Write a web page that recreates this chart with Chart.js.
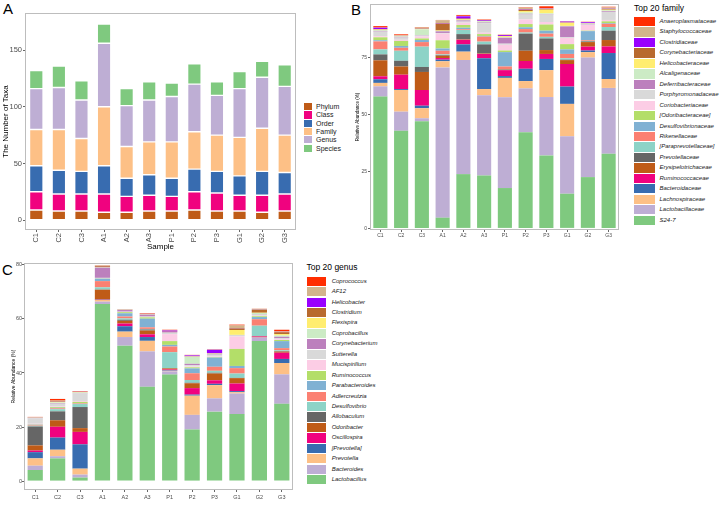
<!DOCTYPE html>
<html>
<head>
<meta charset="utf-8">
<script src="https://cdn.jsdelivr.net/npm/chart.js@4.4.0/dist/chart.umd.min.js"></script>
<style>
    body { margin: 0; background: #fff; width: 720px; height: 511px; position: relative; overflow: hidden; font-family: 'Liberation Sans', Arial, sans-serif; }
    canvas { position: absolute; }
    .panel { position: absolute; font-size: 15px; line-height: 15px; color: #000; }
    .legend { position: absolute; left: 0; top: 0; }
    .legend div { position: absolute; white-space: nowrap; }
    .legend .title { font-size: 8.5px; line-height: 9px; color: #000; }
    .legend .name { color: #1a1a1a; }
</style>
</head>
<body>
<div class="panel" style="left:3px;top:1px">A</div>
<div class="panel" style="left:351px;top:2px">B</div>
<div class="panel" style="left:2px;top:262px">C</div>

<canvas id="chartA" width="300" height="252" style="left:0;top:0"></canvas>
<canvas id="chartB" width="265" height="240" style="left:355px;top:0"></canvas>
<canvas id="chartC" width="296" height="250" style="left:0;top:258px"></canvas>

<div id="legendA" class="legend"></div>
<div id="legendB" class="legend"></div>
<div id="legendC" class="legend"></div>

<script>
const samples = ['C1', 'C2', 'C3', 'A1', 'A2', 'A3', 'P1', 'P2', 'P3', 'G1', 'G2', 'G3'];

// A - number of taxa per level
const taxaLevels = ['Phylum', 'Class', 'Order', 'Family', 'Genus', 'Species'];
const phylum  = [9, 8, 8, 7, 7, 8, 8, 9, 8, 8, 7, 8];
const klass   = [16, 15, 15, 16, 14, 14, 13, 16, 16, 14, 15, 15];
const order   = [23, 21, 20, 25, 16, 18, 16, 20, 19, 17, 21, 19];
const family  = [32, 36, 29, 52, 28, 29, 32, 33, 32, 34, 38, 33];
const genus   = [36, 37, 34, 56, 36, 37, 40, 42, 35, 43, 45, 43];
const species = [16, 19, 17, 17, 15, 16, 12, 18, 12, 15, 14, 19];
const ticksA = [0, 50, 100, 150];

// B - top 20 family, relative abundance (%)
const s24_7               = [57.8, 42.8, 47.0, 4.7, 23.8, 23.2, 17.7, 42.2, 32.0, 15.2, 22.5, 32.7];
const lactobacillaceae    = [4.5, 8.4, 1.3, 65.9, 50.0, 35.2, 39.8, 19.2, 25.6, 25.2, 52.4, 28.9];
const lachnospiraceae     = [1.5, 9.5, 4.4, 2.7, 3.7, 2.7, 8.5, 3.2, 11.8, 14.2, 2.4, 3.9];
const bacteroidaceae      = [1.6, 0.4, 1.1, 0.7, 3.2, 13.5, 0.8, 5.4, 4.9, 7.6, 0.7, 11.4];
const ruminococcaceae     = [1.3, 6.3, 6.9, 0.7, 2.0, 1.9, 2.6, 3.4, 2.2, 9.9, 1.7, 2.9];
const erysipelotrichaceae = [7.0, 3.6, 7.9, 1.0, 0.2, 0.2, 0.2, 4.5, 1.7, 1.7, 2.0, 2.8];
const prevotellaceae      = [2.6, 2.5, 2.2, 0.3, 2.3, 4.0, 0.2, 7.5, 5.1, 0.2, 0.3, 4.1];
const paraprevotellaceae  = [2.2, 4.4, 8.9, 0.3, 1.8, 1.2, 0.1, 0.5, 0.7, 0.6, 0.2, 1.6];
const rikenellaceae       = [3.5, 1.3, 2.0, 1.6, 0.3, 2.2, 1.1, 1.5, 1.4, 1.9, 0.3, 1.4];
const desulfovibrionaceae = [0.5, 0.8, 0.9, 1.0, 0.7, 0.3, 6.3, 0.8, 1.3, 2.0, 4.0, 0.3];
const odoribacteraceae    = [1.3, 2.2, 0.7, 3.6, 1.2, 0.8, 0.7, 1.4, 2.7, 2.3, 0.2, 0.8];
const coriobacteriaceae   = [0.5, 0.5, 0.8, 2.9, 1.0, 0.6, 2.5, 2.0, 1.1, 2.7, 2.5, 0.6];
const porphyromonadaceae  = [2.0, 1.0, 0.5, 0.3, 0.5, 4.2, 0.5, 2.2, 3.3, 0.3, 0.2, 3.5];
const deferribacteraceae  = [0.3, 0.3, 0.2, 0.7, 0.5, 0.3, 2.6, 0.3, 0.2, 4.8, 0.2, 0.3];
const alcaligenaceae      = [0.3, 0.3, 2.5, 0.2, 0.2, 0.5, 0.2, 0.6, 0.3, 0.2, 0.2, 0.4];
const helicobacteraceae   = [0.3, 0.2, 0.2, 0.2, 0.3, 0.1, 0.5, 0.6, 1.6, 1.4, 0.1, 0.3];
const corynebacteriaceae  = [0.2, 0.1, 0.2, 3.0, 0.3, 0.1, 0.1, 0.6, 0.3, 0.1, 0.1, 0.3];
const clostridiaceae      = [0.6, 0.1, 0.1, 0.2, 1.0, 0.3, 0.4, 0.2, 0.1, 0.4, 0.4, 0.1];
const staphylococcaceae   = [0.1, 0.1, 0.3, 1.3, 0.2, 0.1, 0.1, 0.7, 0.2, 0.1, 0.1, 0.6];
const anaeroplasmataceae  = [0.6, 0.3, 0.2, 0.1, 0.4, 0.2, 0.1, 0.2, 0.9, 0.1, 0.1, 0.3];
const ticksB = [0, 25, 50, 75];

// C - top 20 genus, relative abundance (%)
const lactobacillus   = [4.1, 8.4, 1.3, 65.5, 50.1, 34.9, 39.4, 19.1, 25.7, 24.8, 51.8, 28.6];
const bacteroides     = [1.6, 0.8, 1.1, 0.9, 3.2, 13.1, 1.2, 5.4, 4.9, 7.6, 1.2, 10.9];
const prevotella      = [2.7, 2.4, 2.2, 0.6, 2.0, 3.9, 0.2, 7.1, 4.9, 0.5, 0.1, 4.2];
const prevotellaBr    = [2.3, 4.5, 9.0, 0.1, 2.0, 1.4, 0.2, 0.4, 0.5, 0.4, 0.1, 1.5];
const oscillospira    = [0.6, 4.0, 4.6, 0.1, 1.0, 1.0, 0.3, 2.4, 1.3, 2.8, 0.3, 2.3];
const odoribacter     = [1.9, 2.4, 1.4, 3.6, 1.0, 1.4, 0.4, 1.8, 2.5, 2.0, 0.1, 0.4];
const allobaculum     = [7.0, 3.3, 7.8, 0.1, 0.4, 0.4, 0.1, 0.2, 0.3, 0.1, 0.1, 0.2];
const desulfovibrio   = [0.3, 0.8, 1.1, 0.8, 0.5, 0.2, 5.9, 1.0, 0.7, 1.6, 3.8, 0.3];
const adlercreutzia   = [0.3, 0.3, 0.2, 2.3, 0.7, 0.6, 2.1, 2.5, 1.5, 2.0, 2.4, 0.8];
const parabacteroides = [0.1, 0.2, 0.1, 0.9, 1.2, 3.2, 0.6, 1.8, 3.4, 0.8, 0.8, 2.6];
const ruminococcus    = [0.1, 0.3, 0.5, 0.1, 0.4, 0.5, 1.4, 0.4, 0.2, 6.3, 0.3, 0.4];
const mucispirillum   = [0.2, 0.2, 0.3, 0.1, 0.1, 0.1, 2.6, 0.3, 0.2, 4.6, 0.2, 0.3];
const sutterella      = [2.0, 1.0, 2.8, 0.1, 0.1, 0.2, 0.4, 0.5, 0.5, 0.3, 0.3, 0.4];
const corynebacterium = [0.1, 0.2, 0.1, 3.8, 0.6, 0.6, 0.2, 0.5, 0.2, 0.1, 0.1, 0.5];
const coprobacillus   = [0.1, 0.3, 0.3, 0.1, 0.1, 0.1, 0.1, 2.6, 0.3, 0.2, 0.6, 0.5];
const flexispira      = [0.05, 0.2, 0.1, 0.1, 0.05, 0.05, 0.1, 0.1, 0.1, 1.8, 0.1, 0.5];
const clostridium     = [0.05, 0.2, 0.05, 0.3, 0.05, 0.1, 0.1, 0.1, 0.1, 0.6, 1.1, 0.7];
const helicobacter    = [0.05, 0.1, 0.05, 0.1, 0.05, 0.1, 0.4, 0.3, 1.3, 0.1, 0.05, 0.1];
const af12            = [0.1, 0.2, 0.1, 0.2, 0.05, 0.1, 0.1, 0.1, 0.1, 1.0, 0.3, 0.2];
const coprococcus     = [0.1, 0.6, 0.2, 0.1, 0.05, 0.2, 0.2, 0.1, 0.1, 0.3, 0.05, 0.6];
const ticksC = [0, 20, 40, 60, 80];

// bottom -> top stacking order
const familySeries = [
    ['S24-7', s24_7], ['Lactobacillaceae', lactobacillaceae], ['Lachnospiraceae', lachnospiraceae],
    ['Bacteroidaceae', bacteroidaceae], ['Ruminococcaceae', ruminococcaceae], ['Erysipelotrichaceae', erysipelotrichaceae],
    ['Prevotellaceae', prevotellaceae], ['[Paraprevotellaceae]', paraprevotellaceae], ['Rikenellaceae', rikenellaceae],
    ['Desulfovibrionaceae', desulfovibrionaceae], ['[Odoribacteraceae]', odoribacteraceae], ['Coriobacteriaceae', coriobacteriaceae],
    ['Porphyromonadaceae', porphyromonadaceae], ['Deferribacteraceae', deferribacteraceae], ['Alcaligenaceae', alcaligenaceae],
    ['Helicobacteraceae', helicobacteraceae], ['Corynebacteriaceae', corynebacteriaceae], ['Clostridiaceae', clostridiaceae],
    ['Staphylococcaceae', staphylococcaceae], ['Anaeroplasmataceae', anaeroplasmataceae]
];
const genusSeries = [
    ['Lactobacillus', lactobacillus], ['Bacteroides', bacteroides], ['Prevotella', prevotella],
    ['[Prevotella]', prevotellaBr], ['Oscillospira', oscillospira], ['Odoribacter', odoribacter],
    ['Allobaculum', allobaculum], ['Desulfovibrio', desulfovibrio], ['Adlercreutzia', adlercreutzia],
    ['Parabacteroides', parabacteroides], ['Ruminococcus', ruminococcus], ['Mucispirillum', mucispirillum],
    ['Sutterella', sutterella], ['Corynebacterium', corynebacterium], ['Coprobacillus', coprobacillus],
    ['Flexispira', flexispira], ['Clostridium', clostridium], ['Helicobacter', helicobacter],
    ['AF12', af12], ['Coprococcus', coprococcus]
];

const levelColors = ['#BF5B17', '#F0027F', '#386CB0', '#FDC086', '#BEAED4', '#7FC97F'];
const palette20 = ['#7FC97F', '#BEAED4', '#FDC086', '#386CB0', '#F0027F', '#BF5B17', '#666666', '#8DD3C7',
    '#FB8072', '#80B1D3', '#B3DE69', '#FCCDE5', '#D9D9D9', '#BC80BD', '#CCEBC5', '#FFED6F',
    '#B86A2E', '#9900FF', '#D2B48C', '#FF2D00'];

const FONT = "'Liberation Sans', Arial, sans-serif";

// grey panel border like ggplot
const boxPlugin = {
    id: 'box',
    afterDatasetsDraw(chart) {
        const a = chart.chartArea;
        const ctx = chart.ctx;
        ctx.save();
        ctx.strokeStyle = '#bdbdbd';
        ctx.lineWidth = 1;
        ctx.strokeRect(Math.round(a.left) + 0.5, Math.round(a.top) + 0.5,
            Math.round(a.right - a.left) - 1, Math.round(a.bottom - a.top) - 1);
        ctx.restore();
    }
};

function stackedChart(id, datasets, o) {
    return new Chart(document.getElementById(id), {
        type: 'bar',
        data: { labels: samples, datasets: datasets },
        plugins: [boxPlugin],
        options: {
            responsive: false,
            animation: false,
            devicePixelRatio: 1,
            events: [],
            layout: { padding: o.padding },
            plugins: { legend: { display: false }, tooltip: { enabled: false } },
            datasets: { bar: { categoryPercentage: 1, barPercentage: o.barFrac } },
            scales: {
                x: {
                    stacked: true,
                    afterFit: s => { s.height = o.xHeight; },
                    grid: { drawOnChartArea: false, offset: false, tickLength: 2, color: '#666' },
                    border: { display: false },
                    ticks: {
                        autoSkip: false, minRotation: o.rot, maxRotation: o.rot,
                        padding: o.xPad, color: '#4d4d4d', font: { family: FONT, size: o.tickSize }
                    },
                    title: o.xTitle ? { display: true, text: o.xTitle, color: '#000', padding: 0, font: { family: FONT, size: 8 } } : { display: false }
                },
                y: {
                    stacked: true,
                    min: o.yMin,
                    max: o.yMax,
                    afterBuildTicks: s => { s.ticks = o.yTicks.map(v => ({ value: v })); },
                    afterFit: s => { s.width = o.yWidth; },
                    grid: { drawOnChartArea: false, tickLength: 2, color: '#666' },
                    border: { display: false },
                    ticks: { padding: o.yPad, color: '#4d4d4d', font: { family: FONT, size: o.tickSize } },
                    title: {
                        display: true, text: o.yTitle, color: '#000',
                        padding: { top: o.yTitlePad, bottom: 0 },
                        font: { family: FONT, size: o.yTitleSize }
                    }
                }
            }
        }
    });
}

let dsA = [phylum, klass, order, family, genus, species].map((d, i) => ({
    label: taxaLevels[i], data: d, backgroundColor: levelColors[i],
    borderColor: '#ffffff', borderWidth: 0.7, borderSkipped: false
}));

let dsB = familySeries.map((f, i) => ({
    label: f[0], data: f[1], backgroundColor: palette20[i], borderWidth: 0
}));

let dsC = genusSeries.map((g, i) => ({
    label: g[0], data: g[1], backgroundColor: palette20[i], borderWidth: 0
}));

stackedChart('chartA', dsA, {
    padding: { top: 13, right: 4, left: 0, bottom: 0 }, barFrac: 0.6,
    xHeight: 22, yWidth: 25, rot: 90, xPad: 1, yPad: 1, tickSize: 7.5,
    yMin: -8.7, yMax: 182.7, yTicks: ticksA,
    yTitle: 'The Number of Taxa', yTitleSize: 8, yTitlePad: 1, xTitle: 'Sample'
});

stackedChart('chartB', dsB, {
    padding: { top: 3, right: 1, left: 0, bottom: 0 }, barFrac: 0.68,
    xHeight: 10, yWidth: 15, rot: 0, xPad: 1, yPad: 1, tickSize: 5,
    yMin: -0.7, yMax: 98.4, yTicks: ticksB,
    yTitle: 'Relative Abundance (%)', yTitleSize: 4.5, yTitlePad: 0.3
});

stackedChart('chartC', dsC, {
    padding: { top: 5, right: 3, left: 0, bottom: 0 }, barFrac: 0.68,
    xHeight: 18, yWidth: 24, rot: 0, xPad: 2, yPad: 0, tickSize: 5.5,
    yMin: -3.3, yMax: 80.7, yTicks: ticksC,
    yTitle: 'Relative Abundance (%)', yTitleSize: 5, yTitlePad: 10.3
});

// html legends, listed top -> bottom
function buildLegend(id, o) {
    let el = document.getElementById(id);
    let html = '';
    if (o.title) {
        html += `<div class="title" style="left:${o.x}px;top:${o.titleTop}px">${o.title}</div>`;
    }
    o.names.forEach((n, i) => {
        let top = o.top + i * o.step;
        html += `<div style="left:${o.x}px;top:${top}px;width:${o.kw}px;height:${o.kh}px;background:${o.colors[i]}"></div>`;
        html += `<div class="name" style="left:${o.x + o.labelDx}px;top:${top}px;line-height:${o.kh}px;font-size:${o.fontSize}px;font-style:${o.italic ? 'italic' : 'normal'}">${n}</div>`;
    });
    el.innerHTML = html;
}

buildLegend('legendA', {
    x: 304, top: 103, step: 8.3, kw: 8.3, kh: 7.3, labelDx: 12, fontSize: 7, italic: false,
    names: taxaLevels, colors: levelColors
});

buildLegend('legendB', {
    x: 634, title: 'Top 20 family', titleTop: 4, top: 17, step: 10.45, kw: 20.5, kh: 9.3,
    labelDx: 25.5, fontSize: 6, italic: true,
    names: familySeries.map(f => f[0]).reverse(), colors: palette20.slice().reverse()
});

buildLegend('legendC', {
    x: 306.5, title: 'Top 20 genus', titleTop: 263, top: 276.7, step: 10.44, kw: 19.5, kh: 9.3,
    labelDx: 25.2, fontSize: 6, italic: true,
    names: genusSeries.map(g => g[0]).reverse(), colors: palette20.slice().reverse()
});
</script>
</body>
</html>
